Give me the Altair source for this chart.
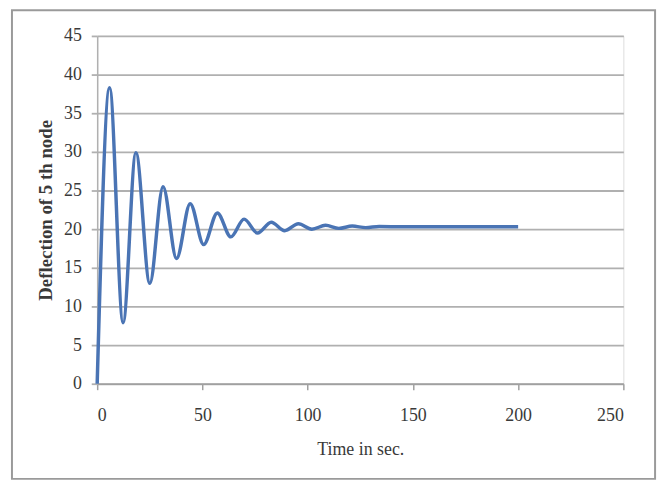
import altair as alt
import pandas as pd

# Values (extrema of the damped oscillation)
time_s = [0, 5.9, 12.3, 18.4, 25.0, 31.3, 37.7, 44.2, 50.6, 57.1, 63.5, 69.8, 76.2,
          82.7, 89.1, 95.6, 102.0, 108.5, 114.8, 121.2, 127.6, 134.0, 145, 160, 180, 200]
deflection = [0, 38.3, 7.9, 29.9, 13.0, 25.5, 16.2, 23.3, 18.0, 22.1, 19.0, 21.3, 19.5,
              20.9, 19.8, 20.7, 20.0, 20.5, 20.1, 20.4, 20.2, 20.35, 20.3, 20.3, 20.3, 20.3]

x_ticks = [0, 50, 100, 150, 200, 250]
y_ticks = [0, 5, 10, 15, 20, 25, 30, 35, 40, 45]

df = pd.DataFrame({"t": time_s, "d": deflection})

W, H = 531, 351
PAD_L, PAD_T = 90, 26

line = alt.Chart(df).mark_line(
    color="#4A74B4", strokeWidth=3.5, interpolate="monotone"
).encode(
    x=alt.X("t:Q", title="Time in sec.",
            scale=alt.Scale(domain=[0, 250], nice=False),
            axis=alt.Axis(values=x_ticks, grid=False, domainColor="#a0a0a0",
                          domainWidth=1.5, tickColor="#a0a0a0", tickWidth=1.5,
                          tickSize=6, labelPadding=17,
                          titlePadding=16, labelFont="Liberation Sans Narrow",
                          labelFontSize=18, labelColor="#3a3a3a",
                          titleFont="Liberation Serif", titleFontSize=18,
                          titleFontWeight="normal", titleColor="#3a3a3a")),
    y=alt.Y("d:Q", title="Deflection of 5 th node",
            scale=alt.Scale(domain=[0, 45], nice=False),
            axis=alt.Axis(values=y_ticks, grid=True, gridColor="#b0b0b0",
                          gridWidth=1.8, domainColor="#b0b0b0", domainWidth=1.5,
                          tickColor="#b0b0b0", tickWidth=1.8,
                          tickSize=6, labelPadding=10, titlePadding=8,
                          labelFont="Liberation Sans Narrow", labelFontSize=18,
                          labelColor="#3a3a3a", titleFont="Liberation Serif",
                          titleFontSize=19, titleFontWeight="bold",
                          titleColor="#3a3a3a")),
)

frame = alt.Chart(pd.DataFrame({"k": [0]})).mark_rect(
    fill=None, stroke="#9a9a9a", strokeWidth=2
).encode(
    x=alt.value(4 - PAD_L), x2=alt.value(653 - PAD_L),
    y=alt.value(0 - PAD_T), y2=alt.value(473 - PAD_T),
)

chart = alt.layer(frame, line).properties(
    width=W, height=H,
    autosize=alt.AutoSizeParams(type="none"),
    padding={"left": PAD_L, "top": PAD_T, "right": 40, "bottom": 100},
).configure_view(stroke=None).configure(background="white")

chart.save("out.html", embed_options={"renderer": "svg", "actions": False})
